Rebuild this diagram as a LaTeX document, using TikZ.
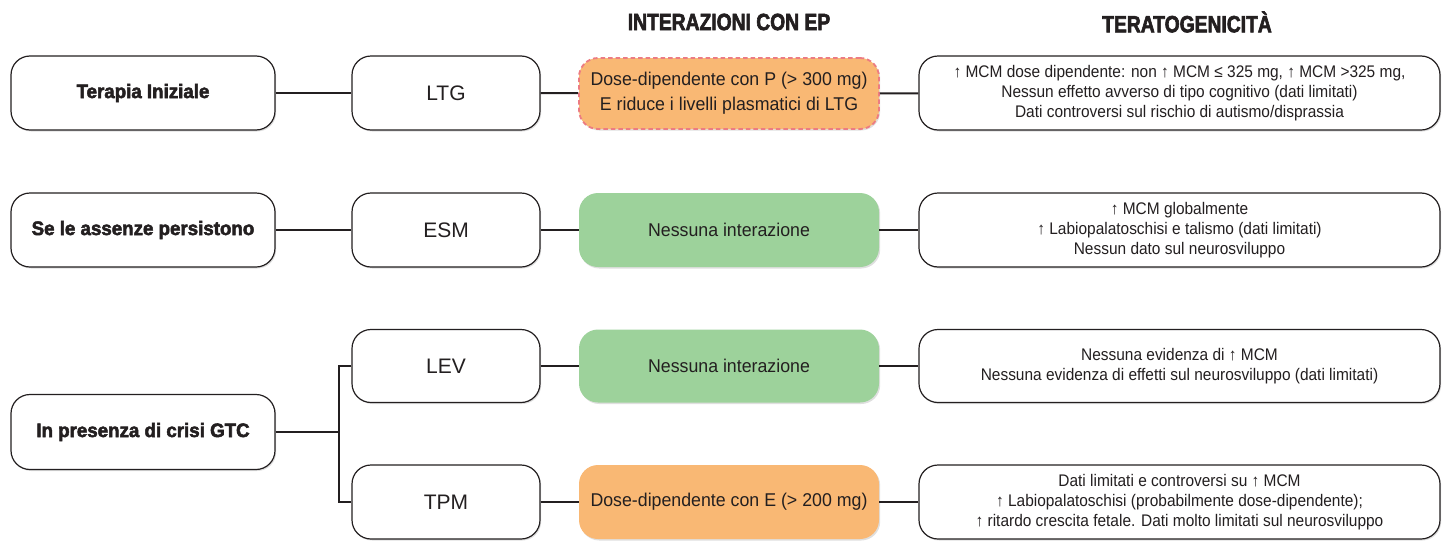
\documentclass[tikz,border=0pt]{standalone}
\usepackage{fontspec}
\setmainfont[FakeStretch=0.92]{Liberation Sans}
\newfontfamily\wideface{Liberation Sans}
\newfontfamily\intface[FakeStretch=0.96]{Liberation Sans}
\newfontfamily\condbold[FakeStretch=0.96,FakeBold=2.6]{Liberation Sans Bold}
\newfontfamily\hdrbold[FakeStretch=0.82,FakeBold=2.6]{Liberation Sans Bold}
\usetikzlibrary{shadows}
\definecolor{orangebox}{HTML}{F9B874}
\definecolor{greenbox}{HTML}{9DD29B}
\definecolor{dashred}{HTML}{EC7C82}
\definecolor{ink}{HTML}{231F20}
\begin{document}
\begin{tikzpicture}[x=1pt,y=-1pt,
  shadowed/.style={drop shadow={opacity=0.25,shadow xshift=1.2pt,shadow yshift=-1.5pt}},
  wbox/.style={draw=ink, line width=1.2pt, rounded corners=19pt, fill=white, align=center,
    inner sep=0pt, text=ink, shadowed},
  leftbox/.style={wbox, minimum width=264pt, minimum height=74pt, font=\condbold\fontsize{19.5}{23}\selectfont},
  drugbox/.style={wbox, minimum width=188pt, minimum height=74pt, font=\wideface\fontsize{21}{24}\selectfont},
  intbox/.style={draw=none, rounded corners=19pt, align=center, inner sep=0pt, text=ink,
    minimum width=300pt, minimum height=74pt, font=\intface\fontsize{18.5}{25}\selectfont, shadowed},
  terabox/.style={wbox, minimum width=521pt, minimum height=74pt, font=\fontsize{16.8}{19.7}\selectfont},
  hdr/.style={font=\hdrbold\fontsize{23.5}{26}\selectfont, text=ink},
  link/.style={draw=ink, line width=2pt}
]
\useasboundingbox (0,0) rectangle (1442,541);

% headers
\node[hdr] (h1) at (729,22) {INTERAZIONI CON EP};
\node[hdr] (h2) at (1187,22) {TERATOGENICITÀ};

% row 1
\node[leftbox] (l1) at (143,93) {Terapia Iniziale};
\node[drugbox] (d1) at (446,93) {LTG};
\node[intbox, fill=orangebox, draw=dashred, line width=1.8pt, dash pattern=on 4.5pt off 3pt, minimum height=71pt] (i1) at (729,93.5)
  {Dose-dipendente con P (> 300 mg)\\E riduce i livelli plasmatici di LTG};
\node[terabox] (t1) at (1179.5,93)
  {↑ MCM dose dipendente: non ↑ MCM ≤ 325 mg, ↑ MCM >325 mg,\\Nessun effetto avverso di tipo cognitivo (dati limitati)\\Dati controversi sul rischio di autismo/disprassia};

% row 2
\node[leftbox] (l2) at (143,230) {Se le assenze persistono};
\node[drugbox] (d2) at (446,230) {ESM};
\node[intbox, fill=greenbox] (i2) at (729,230) {Nessuna interazione};
\node[terabox] (t2) at (1179.5,230)
  {↑ MCM globalmente\\↑ Labiopalatoschisi e talismo (dati limitati)\\Nessun dato sul neurosviluppo};

% row 3/4
\node[leftbox, minimum height=75pt] (l3) at (143,432) {In presenza di crisi GTC};
\node[drugbox, minimum height=73pt] (d3) at (446,366) {LEV};
\node[intbox, fill=greenbox, minimum height=73pt] (i3) at (729,366) {Nessuna interazione};
\node[terabox, minimum height=73pt] (t3) at (1179.5,366)
  {Nessuna evidenza di ↑ MCM\\Nessuna evidenza di effetti sul neurosviluppo (dati limitati)};

\node[drugbox] (d4) at (446,502) {TPM};
\node[intbox, fill=orangebox] (i4) at (729,502) {Dose-dipendente con E (> 200 mg)};
\node[terabox] (t4) at (1179.5,502)
  {Dati limitati e controversi su ↑ MCM\\↑ Labiopalatoschisi (probabilmente dose-dipendente);\\↑ ritardo crescita fetale. Dati molto limitati sul neurosviluppo};

% connectors
\draw[link] (l1) -- (d1);
\draw[link] (d1) -- (i1);
\draw[link] (i1) -- (t1);
\draw[link] (l2) -- (d2);
\draw[link] (d2) -- (i2);
\draw[link] (i2) -- (t2);
\coordinate (br) at (339,432);
\draw[link] (l3.east |- br) -- (br);
\draw[link] (d3.west) -| (br) |- (d4.west);
\draw[link] (d3) -- (i3);
\draw[link] (i3) -- (t3);
\draw[link] (d4) -- (i4);
\draw[link] (i4) -- (t4);
\end{tikzpicture}
\end{document}
